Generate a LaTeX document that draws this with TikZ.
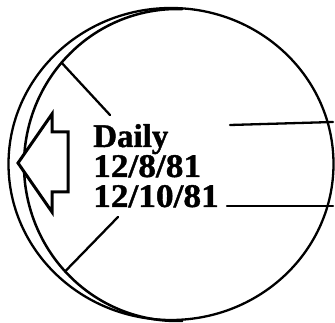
\documentclass[tikz,border=0pt]{standalone}
\usepackage{fontspec}
\setmainfont{Liberation Serif}
\newfontfamily\lblfont{Liberation Serif}[BoldFeatures={FakeBold=1.2}]
\newfontfamily\datefont{Liberation Serif}[FakeStretch=1.07,BoldFeatures={FakeBold=1.2}]
\begin{document}
\begin{tikzpicture}[x=1pt,y=-1pt,line join=round,line cap=round,
  rim/.style={line width=2.3pt},
  crescent/.style={line width=2.5pt},
  rayline/.style={line width=2.3pt},
  arrowshape/.style={line width=3pt,fill=white,line join=miter,line cap=butt},
  lbl/.style={anchor=base west,inner sep=0pt,font=\fontsize{33}{36}\selectfont\lblfont\bfseries},
  datelbl/.style={lbl,font=\fontsize{33}{36}\selectfont\datefont\bfseries}]
\useasboundingbox (0,0) rectangle (335,323);
% outer rim
\draw[rim] (171,164) ellipse [x radius=162.5, y radius=156];
% inner crescent arc
\draw[crescent] plot[domain=88:272,samples=90,smooth]
  ({177+153*cos(\x)},{165-156*sin(\x)});
% rays
\coordinate (l1a) at ({177+153*cos(139)},{165-156*sin(139)});
\coordinate (l1b) at (110,115);
\coordinate (l2a) at ({177+153*cos(223)},{165-156*sin(223)});
\coordinate (l2b) at (118,217);
\coordinate (r1a) at (230,125); \coordinate (r1b) at (333,122);
\coordinate (r2a) at (227,206); \coordinate (r2b) at (333,206);
\draw[rayline] (l1a) -- (l1b);
\draw[rayline] (l2a) -- (l2b);
\draw[rayline] (r1a) -- (r1b);
\draw[rayline] (r2a) -- (r2b);
% arrow
\draw[arrowshape] (18,163) -- (52,114) -- (52,132) -- (68,132) -- (68,192)
  -- (52,192) -- (52,212) -- cycle;
% text
\node[lbl] (daily) at (93,147) {Daily};
\node[datelbl] (d1) at (93,177) {12/8/81};
\node[datelbl] (d2) at (93,207) {12/10/81};
\end{tikzpicture}
\end{document}
